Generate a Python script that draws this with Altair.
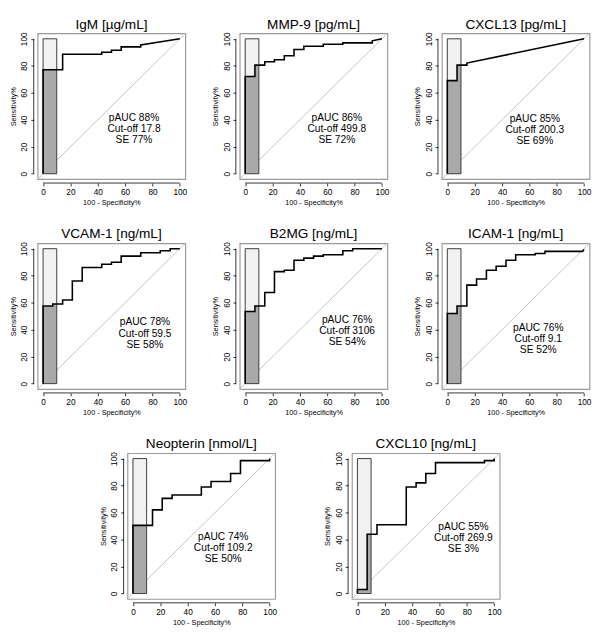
import altair as alt
import pandas as pd

# ---------------- data ----------------
titles = ["IgM [µg/mL]", "MMP-9 [pg/mL]", "CXCL13 [pg/mL]",
          "VCAM-1 [ng/mL]", "B2MG [ng/mL]", "ICAM-1 [ng/mL]",
          "Neopterin [nmol/L]", "CXCL10 [ng/mL]"]
pauc = [88, 86, 85, 78, 76, 76, 74, 55]
cutoff = ["17.8", "499.8", "200.3", "59.5", "3106", "9.1", "109.2", "269.9"]
se = [77, 72, 69, 58, 54, 52, 50, 3]

igm_x = [0, 0, 14.3, 14.3, 42.9, 42.9, 50, 50, 57.1, 57.1, 71.4, 71.4, 100]
igm_y = [0, 77, 77, 88.5, 88.5, 90, 90, 91.5, 91.5, 94, 94, 95.5, 100]

mmp9_x = [0, 0, 7.1, 7.1, 14.3, 14.3, 21.4, 21.4, 28.6, 28.6, 35.7, 35.7, 42.9, 42.9,
          57.1, 57.1, 71.4, 71.4, 92.9, 92.9, 100]
mmp9_y = [0, 72, 72, 80.5, 80.5, 83, 83, 84.5, 84.5, 87.5, 87.5, 92, 92, 94.5,
          94.5, 96, 96, 97, 97, 98.5, 100]

cxcl13_x = [0, 0, 7.1, 7.1, 14.3, 14.3, 100]
cxcl13_y = [0, 69, 69, 80.5, 80.5, 82, 100]

vcam1_x = [0, 0, 7.1, 7.1, 14.3, 14.3, 21.4, 21.4, 28.6, 28.6, 42.9, 42.9, 50, 50,
           57.1, 57.1, 71.4, 71.4, 85.7, 85.7, 92.9, 92.9, 100]
vcam1_y = [0, 57.5, 57.5, 59, 59, 62, 62, 76, 76, 86, 86, 88.5, 88.5, 90,
           90, 94.5, 94.5, 97, 97, 98.5, 98.5, 100, 100]

b2mg_x = [0, 0, 7.1, 7.1, 14.3, 14.3, 21.4, 21.4, 28.6, 28.6, 35.7, 35.7, 42.9, 42.9,
          50, 50, 57.1, 57.1, 71.4, 71.4, 78.6, 78.6, 100]
b2mg_y = [0, 53.5, 53.5, 57.5, 57.5, 67.5, 67.5, 83, 83, 84, 84, 91.5, 91.5, 93,
          93, 94.5, 94.5, 95.5, 95.5, 98.5, 98.5, 100, 100]

icam1_x = [0, 0, 7.1, 7.1, 14.3, 14.3, 21.4, 21.4, 28.6, 28.6, 35.7, 35.7, 42.9, 42.9,
           50, 50, 64.3, 64.3, 71.4, 71.4, 99, 100]
icam1_y = [0, 52, 52, 57.5, 57.5, 73, 73, 77.5, 77.5, 84, 84, 87, 87, 91.5,
           91.5, 95.5, 95.5, 96.5, 96.5, 98, 98, 99.5]

neop_x = [0, 0, 14.3, 14.3, 21.4, 21.4, 28.6, 28.6, 50, 50, 57.1, 57.1, 71.4, 71.4,
          78.6, 78.6, 100, 100]
neop_y = [0, 50.5, 50.5, 62, 62, 70.5, 70.5, 73, 73, 79, 79, 83, 83, 89,
          89, 98.5, 98.5, 100]

cxcl10_x = [0, 0, 7.1, 7.1, 14.3, 14.3, 35.7, 35.7, 42.9, 42.9, 50, 50, 57.1, 57.1,
            92.9, 92.9, 100, 100]
cxcl10_y = [0, 3, 3, 44, 44, 51, 51, 79, 79, 82, 82, 89, 89, 97,
            97, 98.5, 98.5, 100]

curves_x = [igm_x, mmp9_x, cxcl13_x, vcam1_x, b2mg_x, icam1_x, neop_x, cxcl10_x]
curves_y = [igm_y, mmp9_y, cxcl13_y, vcam1_y, b2mg_y, icam1_y, neop_y, cxcl10_y]

# centre of the annotation text (data units)
ann_x = [66.5, 67, 64, 74.5, 74.5, 66.5, 66, 77.5]
ann_y = [33, 33, 32.5, 37, 39, 33, 33.5, 41]

pauc_range = [0, 10]        # 100-specificity range of the partial AUC
ticks = [0, 20, 40, 60, 80, 100]

# ---------------- layout / style ----------------
W, H = 152, 150
FONT = "Liberation Sans"
xsc = alt.Scale(domain=[-4, 104], nice=False, zero=False)
ysc = alt.Scale(domain=[-4, 104], nice=False, zero=False)
ax_x = alt.Axis(title="100 - Specificity%", values=ticks, format="d")
ax_y = alt.Axis(title="Sensitivity%", values=ticks, format="d")


def panel(i):
    xs, ys = curves_x[i], curves_y[i]
    cdf = pd.DataFrame({"x": xs, "y": ys, "i": list(range(len(xs)))})
    # area under the curve inside the partial range
    lo, hi = pauc_range
    pts = [(x, y) for x, y in zip(xs, ys) if x <= hi]
    pts.append((hi, pts[-1][1]))
    adf = pd.DataFrame({"x": [p[0] for p in pts], "y": [p[1] for p in pts]})
    rdf = pd.DataFrame({"x": [lo], "x2": [hi], "y": [0], "y2": [100]})
    tdf = pd.DataFrame({"x": [min(ticks)], "x2": [max(ticks)]})
    one = pd.DataFrame({"a": [0]})

    diag = alt.Chart(one).mark_rule(color="#c4c4c4", strokeWidth=1).encode(
        x=alt.value(0), x2=alt.value(W), y=alt.value(H), y2=alt.value(0))
    light = alt.Chart(rdf).mark_rect(fill="#f1f1f1").encode(
        x=alt.X("x:Q", scale=xsc, axis=ax_x), x2="x2:Q",
        y=alt.Y("y:Q", scale=ysc, axis=ax_y), y2="y2:Q")
    dark = alt.Chart(adf).mark_area(color="#a9a9a9").encode(
        x=alt.X("x:Q", scale=xsc, axis=ax_x),
        y=alt.Y("y:Q", scale=ysc, axis=ax_y, stack=None), y2=alt.datum(0))
    outline = alt.Chart(rdf).mark_rect(fillOpacity=0, stroke="#3a3a3a", strokeWidth=1).encode(
        x=alt.X("x:Q", scale=xsc, axis=ax_x), x2="x2:Q",
        y=alt.Y("y:Q", scale=ysc, axis=ax_y), y2="y2:Q")
    line = alt.Chart(cdf).mark_line(color="black", strokeWidth=1.6).encode(
        x=alt.X("x:Q", scale=xsc, axis=ax_x),
        y=alt.Y("y:Q", scale=ysc, axis=ax_y), order="i:Q")
    xaxis_line = alt.Chart(tdf).mark_rule(color="black", strokeWidth=0.8).encode(
        x=alt.X("x:Q", scale=xsc, axis=ax_x), x2="x2:Q", y=alt.value(H + 4))
    yaxis_line = alt.Chart(tdf.rename(columns={"x": "y", "x2": "y2"})).mark_rule(
        color="black", strokeWidth=0.8).encode(
        y=alt.Y("y:Q", scale=ysc, axis=ax_y), y2="y2:Q", x=alt.value(-4))
    title = alt.Chart(one).mark_text(
        text=titles[i], font=FONT, fontSize=14, color="black", align="center",
        baseline="alphabetic").encode(x=alt.value(W / 2), y=alt.value(-5))

    lines = [f"pAUC {pauc[i]}%", f"Cut-off {cutoff[i]}", f"SE {se[i]}%"]
    texts = []
    for k, s in enumerate(lines):
        t = alt.Chart(pd.DataFrame({"x": [ann_x[i]], "y": [ann_y[i]], "t": [s]})).mark_text(
            font=FONT, fontSize=10.5, color="black", align="center", baseline="middle",
            dy=(k - 1) * 11.5).encode(
            x=alt.X("x:Q", scale=xsc, axis=ax_x),
            y=alt.Y("y:Q", scale=ysc, axis=ax_y), text="t:N")
        texts.append(t)

    return alt.layer(diag, light, dark, outline, line, xaxis_line, yaxis_line, title,
                     *texts).properties(width=W, height=H)


row1 = alt.hconcat(panel(0), panel(1), panel(2), spacing=23)
row2 = alt.hconcat(panel(3), panel(4), panel(5), spacing=23)
row3 = alt.hconcat(panel(6), panel(7), spacing=46)

chart = alt.vconcat(row1, row2, row3, spacing=20, center=True).properties(
    padding=0
).configure_view(
    stroke="#9a9a9a", strokeWidth=1.2
).configure_axis(
    domain=False, grid=False, ticks=True, tickSize=3, tickColor="black", tickWidth=0.8,
    labelColor="black", titleColor="black", labelFont=FONT, titleFont=FONT,
    labelFontSize=8.5, titleFontSize=7.5, titleFontWeight="normal",
    labelPadding=2, titlePadding=3, offset=4, labelFlush=False
).configure_axisY(
    labelAngle=270, labelAlign="center", labelBaseline="bottom"
)

chart.save("out.html", embed_options={"renderer": "svg", "actions": False})
